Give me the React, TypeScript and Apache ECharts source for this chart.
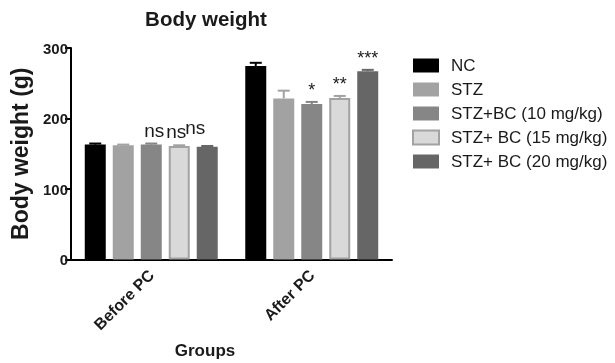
import React, { useEffect, useRef } from "react";
import * as echarts from "echarts";

const categories = ["Before PC", "After PC"];
const seriesNames = ["NC", "STZ", "STZ+BC (10 mg/kg)", "STZ+ BC (15 mg/kg)", "STZ+ BC (20 mg/kg)"];
const ncMean = [163, 274.5];
const ncErr = [1.5, 4.5];
const stzMean = [162, 228.5];
const stzErr = [1, 11];
const bc10Mean = [163, 220.5];
const bc10Err = [1.5, 3];
const bc15Mean = [161, 229];
const bc15Err = [1, 3];
const bc20Mean = [160, 267];
const bc20Err = [1, 2];
const bc10Sig = ["ns", "*"];
const bc15Sig = ["ns", "**"];
const bc20Sig = ["ns", "***"];
const yTicks = [0, 100, 200, 300];

const means = [ncMean, stzMean, bc10Mean, bc15Mean, bc20Mean];
const errs = [ncErr, stzErr, bc10Err, bc15Err, bc20Err];
const sigs = [["", ""], ["", ""], bc10Sig, bc15Sig, bc20Sig];

const fills = ["#000000", "#a2a2a2", "#868686", "#d9d9d9", "#666666"];
const borders = ["#000000", "#a2a2a2", "#868686", "#a2a2a2", "#666666"];
// label nudges [dx, dy] per series per category (styling only)
const sigNudge = [
  [[0, 0], [0, 0]],
  [[0, 0], [0, 0]],
  [[3, 0], [0, 0]],
  [[-3, 0], [0, 0]],
  [[-12, -5], [0, 0]],
];

const FONT = "'Liberation Sans', Arial, Helvetica, sans-serif";
const BAR_W = 21;
const BAR_STEP = 28;

export default function App() {
  const ref = useRef<HTMLDivElement>(null);
  useEffect(() => {
    if (!ref.current) return;
    const chart = echarts.init(ref.current, null, { renderer: "svg" });
    const n = seriesNames.length;
    const barSeries = seriesNames.map((name, i) => ({
      name,
      type: "bar",
      barWidth: BAR_W,
      barGap: "33.3%",
      data: means[i],
      itemStyle: {
        color: fills[i],
        borderColor: borders[i],
        borderWidth: i === 3 ? 2 : 0,
      },
      z: 2,
    }));
    const errSeries = seriesNames.map((name, i) => ({
      name: "err_" + i,
      type: "custom",
      z: 3,
      data: categories.map((c, j) => [j, means[i][j], errs[i][j]]),
      encode: { x: 0, y: 1 },
      renderItem: (params: any, api: any) => {
        const j = api.value(0);
        const m = api.value(1);
        const e = api.value(2);
        const off = (i - (n - 1) / 2) * BAR_STEP;
        const base = api.coord([j, m]);
        const top = api.coord([j, m + e]);
        const x = base[0] + off;
        const col = borders[i];
        const children: any[] = [
          { type: "line", shape: { x1: x, y1: base[1], x2: x, y2: top[1] }, style: { stroke: col, lineWidth: 2 } },
          { type: "line", shape: { x1: x - 6, y1: top[1], x2: x + 6, y2: top[1] }, style: { stroke: col, lineWidth: 2 } },
        ];
        const s = sigs[i][j];
        if (s) {
          const nd = sigNudge[i][j];
          const isStar = s.indexOf("*") >= 0;
          children.push({
            type: "text",
            x: x + nd[0],
            y: top[1] - (isStar ? 3 : 4) + nd[1],
            style: {
              text: s,
              fill: "#1a1a1a",
              font: `${isStar ? 18 : 19}px ${FONT}`,
              align: "center",
              verticalAlign: "bottom",
            },
          });
        }
        return { type: "group", children };
      },
    }));

    chart.setOption({
      animation: false,
      textStyle: { fontFamily: FONT },
      grid: { left: 70, top: 48, right: 223, bottom: 103.5, containLabel: false },
      graphic: [
        {
          type: "text",
          x: 206,
          y: 18,
          style: { text: "Body weight", fill: "#1a1a1a", font: `bold 20.5px ${FONT}`, align: "center", verticalAlign: "middle" },
        },
        {
          type: "text",
          x: 205,
          y: 350,
          style: { text: "Groups", fill: "#1a1a1a", font: `bold 17px ${FONT}`, align: "center", verticalAlign: "middle" },
        },
      ],
      legend: {
        data: seriesNames,
        orient: "vertical",
        left: 412,
        top: 57,
        padding: 0,
        itemWidth: 26,
        itemHeight: 14,
        itemGap: 7,
        icon: "rect",
        textStyle: { fontSize: 17, color: "#1a1a1a", fontFamily: FONT, padding: [0, 0, 0, 7] },
      },
      xAxis: {
        type: "category",
        data: categories,
        axisLine: { lineStyle: { color: "#000", width: 2 } },
        axisTick: { alignWithLabel: true, length: 7, lineStyle: { color: "#000", width: 2 } },
        axisLabel: { rotate: 45, fontSize: 16, fontWeight: "bold", color: "#1a1a1a", margin: 13, fontFamily: FONT },
      },
      yAxis: {
        type: "value",
        min: yTicks[0],
        max: yTicks[yTicks.length - 1],
        interval: 100,
        name: "Body weight (g)",
        nameLocation: "middle",
        nameGap: 40,
        nameTextStyle: { fontSize: 23, fontWeight: "bold", color: "#1a1a1a", fontFamily: FONT },
        axisLine: { show: true, lineStyle: { color: "#000", width: 2 } },
        axisTick: { show: true, length: 6, lineStyle: { color: "#000", width: 2 } },
        axisLabel: { fontSize: 15, fontWeight: "bold", color: "#1a1a1a", margin: 3, fontFamily: FONT },
        splitLine: { show: false },
      },
      series: [...barSeries, ...errSeries],
    });
    return () => chart.dispose();
  }, []);
  return <div ref={ref} style={{ position: "fixed", left: 0, top: 0, width: 615, height: 363 }} />;
}
